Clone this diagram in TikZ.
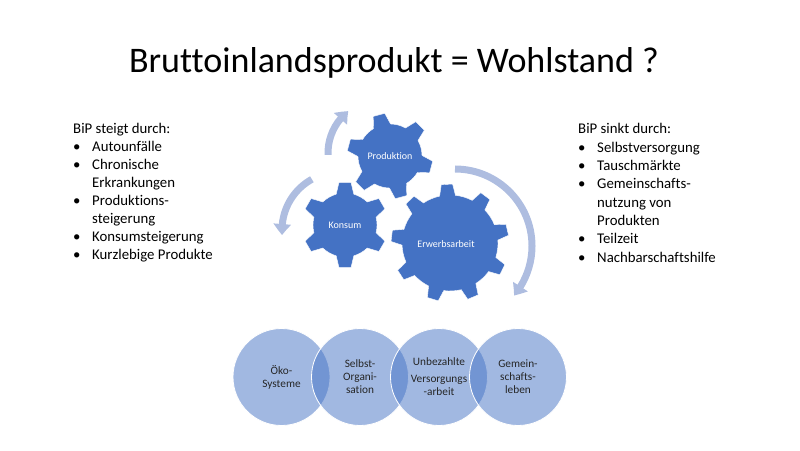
\documentclass[tikz,border=0pt]{standalone}
\usepackage{fontspec}
\setmainfont{Carlito}[Ligatures=NoCommon]
\usetikzlibrary{arrows.meta,bending,calc}
\definecolor{gearblue}{HTML}{4472C4}
\definecolor{arrowblue}{RGB}{174,189,224}
\newcommand\drawgear[7]{%
  \begin{scope}[shift={(#1)}]
    \path[gear] (#5-#6:#3)
      \foreach \i [evaluate=\i as \ang using #5+(\i-1)*360/#2] in {1,...,#2} {
        -- (\ang-#7:#4) -- (\ang+#7:#4) -- (\ang+#6:#3)
        arc[start angle={\ang+#6}, end angle={\ang+360/#2-#6}, radius=#3]
      } -- cycle;
  \end{scope}}
\begin{document}
\begin{tikzpicture}[x=1pt,y=1pt,
  gear/.style={fill=gearblue, draw=white, line width=0.4pt},
  gearlabel/.style={text=white, font=\fontsize{10}{12}\selectfont, inner sep=0},
  cyc/.style={-{Triangle[width=17pt,length=11pt,bend]}, draw=arrowblue, line width=7pt},
  venn/.style={circle, minimum size=97pt, inner sep=0, fill=gearblue, fill opacity=0.5, text opacity=1,
    draw=white, line width=0.8pt, align=center, font=\fontsize{11.3}{13}\selectfont, text=black!85},
  lst/.style={anchor=base west, inner sep=0, font=\fontsize{14.8}{17}\selectfont},
  titlestyle/.style={anchor=base, inner sep=0, font=\fontsize{36}{42}\selectfont}]
\useasboundingbox (0,0) rectangle (800,450);

% title
\node[titlestyle] (title) at (394,377.5) {Bruttoinlandsprodukt = Wohlstand ?};

% left list
\node[lst] (lh) at (73,316) {BiP steigt durch:};
\node[lst] (lb1) at (73,298) {•}; \node[lst] (l1) at (92,298) {Autounfälle};
\node[lst] (lb2) at (73,280) {•}; \node[lst] (l2) at (92,280) {Chronische};
\node[lst] (l3) at (92,262) {Erkrankungen};
\node[lst] (lb4) at (73,244) {•}; \node[lst] (l4) at (92,244) {Produktions-};
\node[lst] (l5) at (92,226) {steigerung};
\node[lst] (lb6) at (73,208) {•}; \node[lst] (l6) at (92,208) {Konsumsteigerung};
\node[lst] (lb7) at (73,190) {•}; \node[lst] (l7) at (92,190) {Kurzlebige Produkte};

% right list
\node[lst] (rh) at (578,316) {BiP sinkt durch:};
\node[lst] (rb1) at (578,297.7) {•}; \node[lst] (r1) at (597,297.7) {Selbstversorgung};
\node[lst] (rb2) at (578,279.4) {•}; \node[lst] (r2) at (597,279.4) {Tauschmärkte};
\node[lst] (rb3) at (578,261.1) {•}; \node[lst] (r3) at (597,261.1) {Gemeinschafts-};
\node[lst] (r4) at (597,242.8) {nutzung von};
\node[lst] (r5) at (597,224.5) {Produkten};
\node[lst] (rb6) at (578,206.2) {•}; \node[lst] (r6) at (597,206.2) {Teilzeit};
\node[lst] (rb7) at (578,187.9) {•}; \node[lst] (r7) at (597,187.9) {Nachbarschaftshilfe};

% circular arrows
\coordinate (ac1) at (381,297);
\coordinate (ac2) at (340,220);
\coordinate (ac3) at (455,204);
\draw[cyc] ($(ac1)+(182:53)$) arc[start angle=182, end angle=128, radius=53];
\draw[cyc] ($(ac2)+(119:58)$) arc[start angle=119, end angle=185, radius=58];
\draw[cyc] ($(ac3)+(90:77)$) arc[start angle=90, end angle=-40, radius=77];

% gears
\drawgear{450,207}{9}{48}{59}{93}{9.5}{5.5}
\drawgear{345,225}{6}{32}{43}{90}{16}{8}
\drawgear{390,294}{6}{32}{43}{45}{16}{8}
\node[gearlabel] (prod) at (390,294) {Produktion};
\node[gearlabel] (kons) at (345,225) {Konsum};
\node[gearlabel] (erw) at (446,206) {Erwerbsarbeit};

% venn circles
\node[venn] (v1) at (281.5,73) {Öko-\\Systeme};
\node[venn] (v2) at (360,73) {Selbst-\\Organi-\\sation};
\node[venn] (v3) at (439,73) {Unbezahlte\\[4pt]Versorgungs\\-arbeit};
\node[venn] (v4) at (518,73) {Gemein-\\schafts-\\leben};
\end{tikzpicture}
\end{document}
